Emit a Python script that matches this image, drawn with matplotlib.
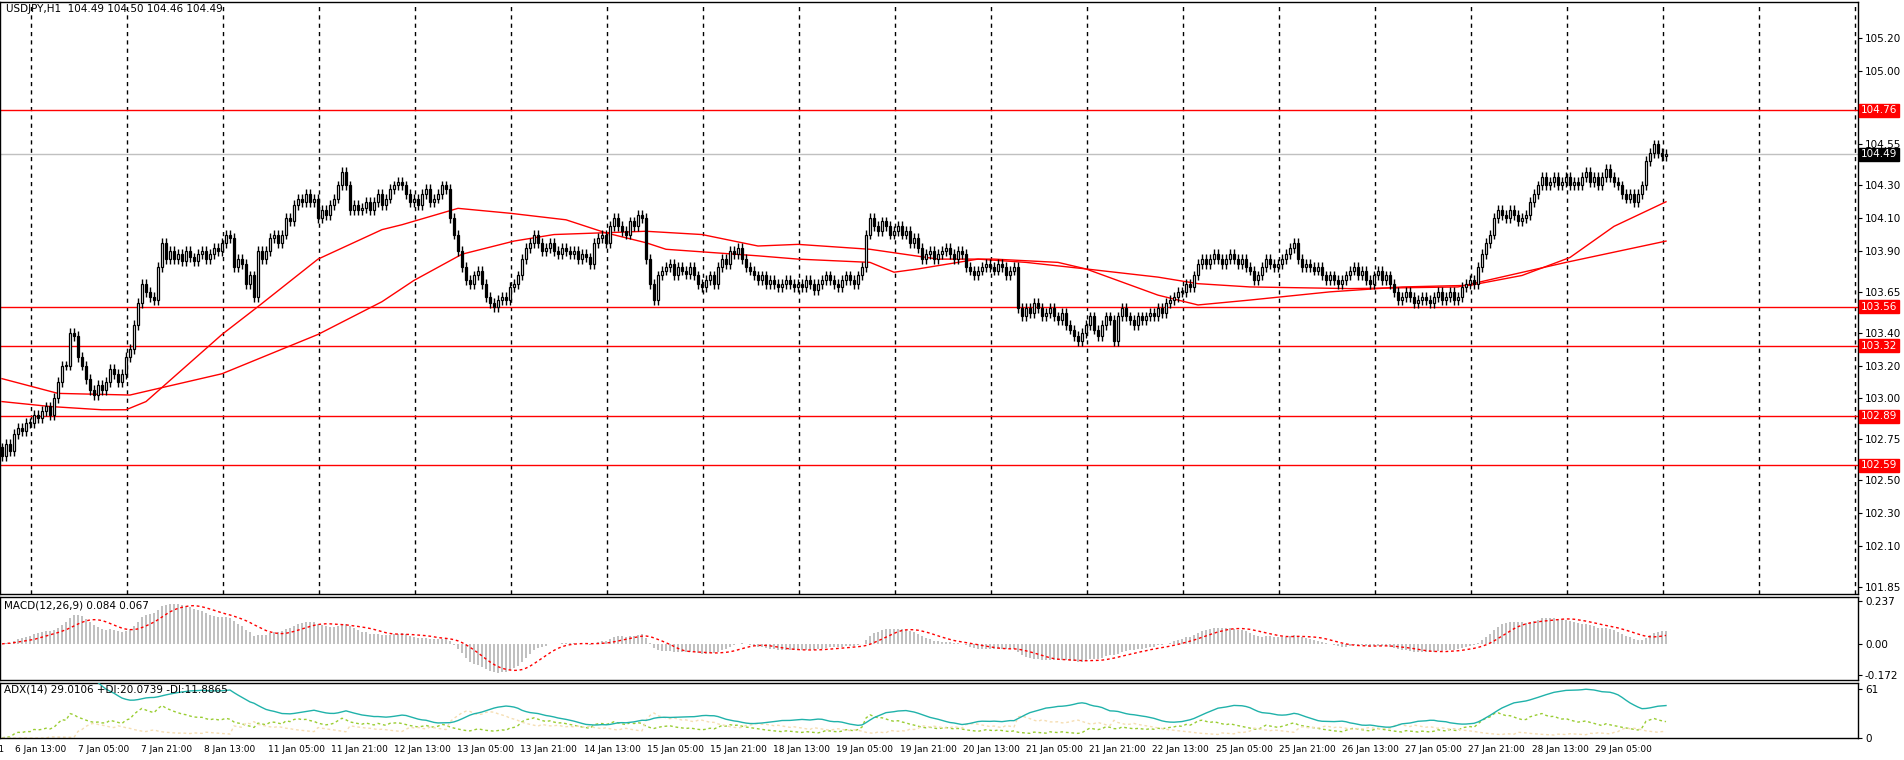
import numpy as np
import pandas as pd
import matplotlib
matplotlib.use("Agg")
import matplotlib.pyplot as plt

# hourly closes USDJPY (one row ~ one grid interval of 24 bars)
closes = [
    102.65, 102.72, 102.68, 102.78, 102.82, 102.80, 102.85,
    102.85, 102.90, 102.88, 102.92, 102.95, 102.90, 103.00, 103.10, 103.20, 103.20, 103.40, 103.38,
    103.25, 103.20, 103.12, 103.05, 103.02, 103.08, 103.05, 103.10, 103.18, 103.15, 103.10, 103.15,
    103.25, 103.30, 103.45, 103.58, 103.70, 103.65, 103.62, 103.60, 103.80, 103.95, 103.85, 103.90,
    103.85, 103.88, 103.84, 103.90, 103.86, 103.84, 103.88, 103.90, 103.85, 103.88, 103.92, 103.90,
    103.95, 104.00, 103.98, 103.80, 103.85, 103.82, 103.70, 103.75, 103.62, 103.90, 103.85, 103.90,
    103.98, 104.00, 103.95, 104.00, 104.10, 104.08, 104.18, 104.22, 104.20, 104.25, 104.20, 104.22,
    104.10, 104.15, 104.12, 104.18, 104.22, 104.30, 104.38, 104.30, 104.15, 104.18, 104.15, 104.16,
    104.20, 104.15, 104.20, 104.25, 104.18, 104.22, 104.28, 104.30, 104.32, 104.30, 104.25, 104.20,
    104.22, 104.18, 104.25, 104.28, 104.20, 104.22, 104.25, 104.30, 104.28, 104.10, 104.00, 103.90,
    103.80, 103.72, 103.70, 103.75, 103.78, 103.70, 103.62, 103.58, 103.56, 103.60, 103.62, 103.60,
    103.68, 103.70, 103.75, 103.85, 103.92, 103.95, 104.00, 103.95, 103.90, 103.92, 103.95, 103.90,
    103.88, 103.92, 103.90, 103.88, 103.90, 103.85, 103.88, 103.86, 103.82, 103.95, 103.98, 104.00,
    103.95, 104.05, 104.10, 104.05, 104.02, 104.00, 104.08, 104.05, 104.12, 104.10, 103.85, 103.70,
    103.60, 103.75, 103.78, 103.80, 103.82, 103.75, 103.80, 103.78, 103.76, 103.80, 103.75, 103.70,
    103.68, 103.72, 103.75, 103.70, 103.80, 103.85, 103.82, 103.90, 103.88, 103.92, 103.85, 103.80,
    103.78, 103.75, 103.72, 103.75, 103.70, 103.72, 103.70, 103.68, 103.70, 103.72, 103.70, 103.68,
    103.70, 103.68, 103.72, 103.70, 103.66, 103.70, 103.72, 103.75, 103.72, 103.70, 103.68, 103.72,
    103.75, 103.72, 103.70, 103.75, 103.80, 104.00, 104.10, 104.05, 104.02, 104.08, 104.05, 104.00,
    104.02, 104.05, 104.00, 104.02, 103.95, 103.98, 103.92, 103.85, 103.88, 103.90, 103.85, 103.88,
    103.90, 103.92, 103.88, 103.85, 103.90, 103.88, 103.80, 103.78, 103.75, 103.78, 103.80, 103.82,
    103.80, 103.78, 103.82, 103.80, 103.75, 103.78, 103.80, 103.55, 103.50, 103.55, 103.52, 103.58,
    103.55, 103.50, 103.52, 103.55, 103.50, 103.48, 103.52, 103.45, 103.42, 103.38, 103.35, 103.40,
    103.45, 103.50, 103.42, 103.38, 103.45, 103.50, 103.48, 103.35, 103.50, 103.55, 103.50, 103.48,
    103.45, 103.50, 103.48, 103.50, 103.52, 103.50, 103.55, 103.52, 103.58, 103.60, 103.62, 103.65,
    103.65, 103.70, 103.68, 103.75, 103.82, 103.85, 103.82, 103.85, 103.88, 103.85, 103.82, 103.85,
    103.88, 103.85, 103.82, 103.85, 103.80, 103.78, 103.72, 103.75, 103.80, 103.85, 103.82, 103.80,
    103.82, 103.85, 103.88, 103.92, 103.95, 103.85, 103.80, 103.82, 103.80, 103.78, 103.80, 103.75,
    103.72, 103.75, 103.72, 103.70, 103.72, 103.75, 103.78, 103.80, 103.75, 103.78, 103.72, 103.70,
    103.75, 103.78, 103.72, 103.75, 103.70, 103.65, 103.60, 103.62, 103.65, 103.62, 103.58, 103.60,
    103.62, 103.60, 103.58, 103.62, 103.65, 103.60, 103.62, 103.65, 103.60, 103.62, 103.68, 103.70,
    103.72, 103.70, 103.80, 103.88, 103.95, 104.00, 104.10, 104.15, 104.12, 104.10, 104.15, 104.12,
    104.08, 104.10, 104.12, 104.20, 104.25, 104.30, 104.35, 104.30, 104.32, 104.35, 104.30, 104.32,
    104.35, 104.30, 104.32, 104.30, 104.35, 104.38, 104.32, 104.35, 104.30, 104.35, 104.40, 104.35,
    104.32, 104.30, 104.25, 104.22, 104.25, 104.20, 104.25, 104.30, 104.45, 104.50, 104.55, 104.50,
    104.48, 104.49,
]
first_open = 102.70

# moving averages (bar index, value)
fast_ma_bars = [0, 12, 25, 31, 36, 55, 64, 79, 95, 100, 114, 127, 141, 151, 161, 166, 189, 199, 217,
                223, 229, 244, 256, 271, 289, 299, 312, 332, 350, 367, 380, 392, 403, 416]
fast_ma_vals = [102.98, 102.95, 102.93, 102.93, 102.98, 103.39, 103.56, 103.85, 104.03, 104.06, 104.16,
                104.13, 104.09, 104.01, 103.95, 103.91, 103.87, 103.85, 103.83, 103.77, 103.79, 103.85,
                103.83, 103.79, 103.63, 103.57, 103.60, 103.65, 103.68, 103.69, 103.75, 103.86, 104.05, 104.20]
slow_ma_bars = [0, 14, 32, 55, 79, 95, 103, 115, 128, 138, 161, 175, 189, 199, 217, 234, 248, 264,
                271, 289, 299, 312, 337, 364, 373, 391, 416]
slow_ma_vals = [103.12, 103.03, 103.02, 103.15, 103.39, 103.59, 103.72, 103.88, 103.96, 104.00, 104.02,
                104.00, 103.93, 103.94, 103.91, 103.85, 103.85, 103.83, 103.79, 103.74, 103.70, 103.68,
                103.67, 103.68, 103.73, 103.83, 103.96]

level_lines = [104.76, 103.56, 103.32, 102.89, 102.59]
bid = 104.49
price_ticks = [105.20, 105.00, 104.55, 104.30, 104.10, 103.90, 103.65, 103.40, 103.20, 103.00,
               102.75, 102.50, 102.30, 102.10, 101.85]
time_labels = ["5 Jan 2021", "6 Jan 13:00", "7 Jan 05:00", "7 Jan 21:00", "8 Jan 13:00", "11 Jan 05:00",
               "11 Jan 21:00", "12 Jan 13:00", "13 Jan 05:00", "13 Jan 21:00", "14 Jan 13:00",
               "15 Jan 05:00", "15 Jan 21:00", "18 Jan 13:00", "19 Jan 05:00", "19 Jan 21:00",
               "20 Jan 13:00", "21 Jan 05:00", "21 Jan 21:00", "22 Jan 13:00", "25 Jan 05:00",
               "25 Jan 21:00", "26 Jan 13:00", "27 Jan 05:00", "27 Jan 21:00", "28 Jan 13:00",
               "29 Jan 05:00"]

c = np.array(closes)
o = np.concatenate([[first_open], c[:-1]])
wick = 0.03
h = np.maximum(o, c) + wick
l = np.minimum(o, c) - wick
x = np.arange(len(c))

# indicators
s = pd.Series(c)
macd = s.ewm(span=12, adjust=False).mean() - s.ewm(span=26, adjust=False).mean()
signal = macd.rolling(9, min_periods=1).mean()

hs, ls = pd.Series(h), pd.Series(l)
up = hs.diff()
dn = -ls.diff()
pdm = np.where((up > dn) & (up > 0), up, 0.0)
mdm = np.where((dn > up) & (dn > 0), dn, 0.0)
tr = pd.concat([hs - ls, (hs - s.shift()).abs(), (ls - s.shift()).abs()], axis=1).max(axis=1)
atr = tr.ewm(alpha=1 / 14, adjust=False).mean()
pdi = 100 * pd.Series(pdm).ewm(alpha=1 / 14, adjust=False).mean() / atr
mdi = 100 * pd.Series(mdm).ewm(alpha=1 / 14, adjust=False).mean() / atr
dx = 100 * (pdi - mdi).abs() / (pdi + mdi)
adx = dx.ewm(alpha=1 / 14, adjust=False).mean()

W, H = 1904, 760
fig = plt.figure(figsize=(W / 100, H / 100), dpi=100)
right = 1858 / W
ax = fig.add_axes([0, 1 - 594 / H, right, 592 / H])
ax_m = fig.add_axes([0, 1 - 680 / H, right, 83 / H], sharex=ax)
ax_a = fig.add_axes([0, 1 - 738 / H, right, 55 / H], sharex=ax)

xmin, xmax = -0.5, 464
grid_pos = np.arange(7.2, xmax, 24)
fs = 7.5

# main panel
for gx in grid_pos:
    ax.axvline(gx, color="black", lw=1, ls=(0, (3, 3)), zorder=0)
for lv in level_lines:
    ax.axhline(lv, color="red", lw=1, zorder=1)
ax.axhline(bid, color="#c0c0c0", lw=1, zorder=1)
ax.plot(fast_ma_bars, fast_ma_vals, color="red", lw=1, zorder=2)
ax.plot(slow_ma_bars, slow_ma_vals, color="red", lw=1, zorder=2)
ax.vlines(x, l, h, color="black", lw=1, zorder=3)
bull = c >= o
body = np.abs(c - o)
body = np.where(body < 0.006, 0.006, body)
ax.bar(x[bull], body[bull], bottom=o[bull], width=0.62, color="white", edgecolor="black", lw=0.9, zorder=4)
ax.bar(x[~bull], body[~bull], bottom=c[~bull], width=0.62, color="black", edgecolor="black", lw=0.9, zorder=4)
ax.set_ylim(101.805, 105.42)
ax.set_xlim(xmin, xmax)
ax.text(0.003, 0.997, "USDJPY,H1  104.49 104.50 104.46 104.49", transform=ax.transAxes,
        fontsize=fs, va="top", ha="left")

# MACD panel
ax_m.bar(x, macd, width=0.35, color="#c0c0c0", zorder=2)
ax_m.plot(x, signal, color="red", lw=1, ls=(0, (2, 2)), zorder=3)
ax_m.set_ylim(-0.2, 0.26)
ax_m.text(0.002, 0.96, "MACD(12,26,9) 0.084 0.067", transform=ax_m.transAxes, fontsize=fs, va="top")

# ADX panel
ax_a.plot(x, adx, color="#20b2aa", lw=1, zorder=3)
ax_a.plot(x, pdi, color="#9acd32", lw=1, ls=(0, (2, 2)), zorder=2)
ax_a.plot(x, mdi, color="#f5deb3", lw=1, ls=(0, (2, 2)), zorder=2)
ax_a.set_ylim(0, 68)
ax_a.text(0.002, 0.98, "ADX(14) 29.0106 +DI:20.0739 -DI:11.8865", transform=ax_a.transAxes, fontsize=fs, va="top")

for a in (ax, ax_m, ax_a):
    a.yaxis.tick_right()
    a.tick_params(axis="y", labelsize=fs, length=3, pad=2)
    a.tick_params(axis="x", bottom=False, labelbottom=False)
    for sp in a.spines.values():
        sp.set_color("black")
        sp.set_linewidth(1)

ax.set_yticks(price_ticks)
ax.set_yticklabels(["%.2f" % v for v in price_ticks])
ax_m.set_yticks([0.237, 0.0, -0.172])
ax_m.set_yticklabels(["0.237", "0.00", "-0.172"])
ax_a.set_yticks([61, 0])
ax_a.set_yticklabels(["61", "0"])


def price_tag(v, bg):
    ax.annotate("%.2f" % v, xy=(1, v), xycoords=("axes fraction", "data"), xytext=(2, 0),
                textcoords="offset points", fontsize=fs, color="white", va="center", ha="left",
                bbox=dict(boxstyle="square,pad=0.15", fc=bg, ec=bg), annotation_clip=False)


for lv in level_lines:
    price_tag(lv, "red")
price_tag(bid, "black")

# time labels under the bottom panel
for k, lab in enumerate(time_labels):
    tx = 2 + 15.8 * (k - 1)
    if k == 0:
        ax_a.text(0.5, -0.12, lab, transform=ax_a.get_xaxis_transform(), fontsize=6.5,
                  va="top", ha="right", clip_on=False)
        continue
    ax_a.text(tx + 1.2, -0.12, lab, transform=ax_a.get_xaxis_transform(), fontsize=6.5,
              va="top", ha="left", clip_on=False)

fig.savefig("out.png", dpi=100)
